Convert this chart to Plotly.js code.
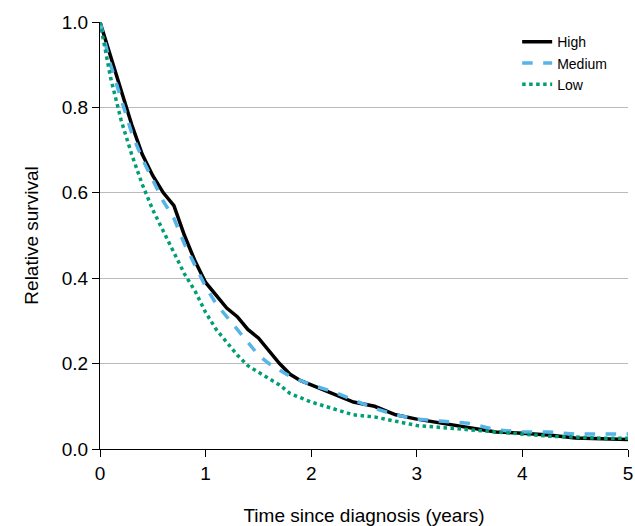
<!DOCTYPE html>
<html><head><script src="https://cdn.plot.ly/plotly-3.0.1.min.js"></script>
<style>body{margin:0}</style></head><body>
<div id="chart" style="width:635px;height:526px"></div>
<script>
const timeYears = [0,0.1,0.2,0.3,0.4,0.5,0.6,0.7,0.8,0.9,1.0,1.1,1.2,1.3,1.4,1.5,1.6,1.7,1.8,1.9,2.0,2.2,2.4,2.6,2.8,3.0,3.25,3.5,3.75,4.0,4.25,4.5,4.75,5.0];
const highSurv = [1.0,0.92,0.84,0.76,0.69,0.64,0.60,0.57,0.50,0.44,0.39,0.36,0.33,0.31,0.28,0.26,0.23,0.20,0.175,0.16,0.15,0.13,0.11,0.10,0.08,0.07,0.06,0.05,0.04,0.037,0.033,0.026,0.024,0.022];
const mediumSurv = [1.0,0.90,0.82,0.74,0.68,0.63,0.58,0.54,0.48,0.43,0.38,0.34,0.31,0.28,0.25,0.22,0.20,0.185,0.17,0.16,0.15,0.135,0.115,0.095,0.08,0.07,0.065,0.06,0.045,0.04,0.04,0.035,0.035,0.035];
const lowSurv = [1.0,0.87,0.77,0.69,0.62,0.56,0.51,0.46,0.41,0.37,0.32,0.28,0.25,0.22,0.195,0.18,0.165,0.15,0.13,0.12,0.11,0.095,0.08,0.075,0.065,0.055,0.05,0.045,0.04,0.035,0.03,0.028,0.025,0.025];

const series = [
  {name:'High', y:highSurv, color:'#000000', dash:'solid'},
  {name:'Medium', y:mediumSurv, color:'#56b4e9', dash:'dash'},
  {name:'Low', y:lowSurv, color:'#009e73', dash:'dot'}
];
const traces = series.map(s => ({
  x: timeYears, y: s.y, name: s.name, type: 'scatter', mode: 'lines',
  line: {color: s.color, width: 3.5, dash: s.dash}
}));
const layout = {
  width:635, height:526,
  margin:{l:100, r:7, t:22, b:77},
  font:{family:'Liberation Sans, Arial, sans-serif', size:18, color:'#000'},
  plot_bgcolor:'#fff', paper_bgcolor:'#fff',
  showlegend:true,
  legend:{x:0.97, y:0.99, xanchor:'right', yanchor:'top', font:{size:14}, bgcolor:'rgba(0,0,0,0)'},
  xaxis:{range:[0,5], dtick:1, showgrid:false, zeroline:false, showline:true, linecolor:'#000', linewidth:1,
    ticks:'outside', ticklen:7, tickcolor:'#000', tickfont:{size:19},
    title:{text:'Time since diagnosis (years)', font:{size:19}, standoff:48}},
  yaxis:{range:[0,1], dtick:0.2, tickformat:'.1f', showgrid:true, gridcolor:'#bbbbbb', zeroline:false,
    showline:true, linecolor:'#000', linewidth:1, ticks:'outside', ticklen:7, tickcolor:'#000', tickfont:{size:19},
    title:{text:'Relative survival', font:{size:19}, standoff:18}}
};
Plotly.newPlot('chart', traces, layout, {displayModeBar:false});
</script></body></html>
